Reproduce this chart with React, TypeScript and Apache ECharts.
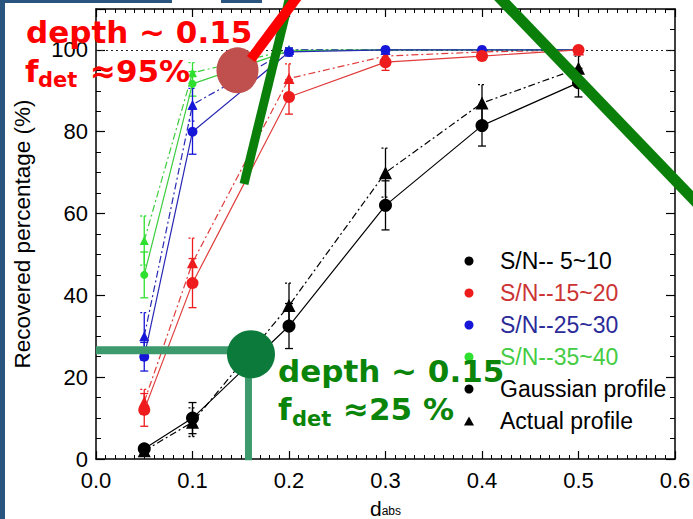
import { useEffect, useRef } from "react";
import * as echarts from "echarts";

// ---------------- data ----------------
const dAbs = [0.05, 0.1, 0.2, 0.3, 0.4, 0.5];

const gaussSN5 = [2.5, 10, 32.5, 62, 81.5, 92];
const gaussSN5Err = [1, 3.8, 5.5, 6, 5, 3.5];
const actualSN5 = [2, 9, 37.5, 70, 87, 95.5];
const actualSN5Err = [1, 3.5, 5.5, 6, 4.5, 3];

const gaussSN15 = [12, 43, 88.5, 97, 98.5, 100];
const gaussSN15Err = [4, 6, 4.2, 2, 1, 0.5];
const actualSN15 = [14, 48, 93, 98.5, 99.5, 100];
const actualSN15Err = [3, 6, 3.6, 1.5, 0.8, 0.3];

const gaussSN25 = [25, 80, 99.5, 100, 100, 100];
const gaussSN25Err = [3.5, 5.5, 1, 0.3, 0.2, 0.1];
const actualSN25 = [30, 86.6, 100, 100, 100, 100];
const actualSN25Err = [5.8, 4, 0.5, 0.2, 0.1, 0.1];

const gaussSN35 = [45, 91.7, 99.8, 100, 100, 100];
const gaussSN35Err = [5.6, 3, 0.5, 0.2, 0.1, 0.1];
const actualSN35 = [53.4, 94.4, 100, 100, 100, 100];
const actualSN35Err = [6, 2.5, 0.3, 0.1, 0.1, 0.1];

const groupLabels = ["S/N-- 5~10", "S/N--15~20", "S/N--25~30", "S/N--35~40"];
const profileLabels = ["Gaussian profile", "Actual profile"];
const yAxisTitle = "Recovered percentage (%)";
const referenceLevel = [100];

// annotation points (data space)
const redMarker = [[0.1466, 95.0]];
const greenMarker = [[0.1606, 25.6]];
const greenHLine = [[0, 26.6], [0.158, 26.6]];
const greenVLine = [[0.158, 25.6], [0.158, -0.3]];

const FONT = "Liberation Sans";
const ANNOT_FONT = "DejaVu Sans";

const groups = [
  { name: groupLabels[0], g: gaussSN5, ge: gaussSN5Err, a: actualSN5, ae: actualSN5Err, line: "#000000", mark: "#000000", text: "#000000", cs: 13, ts: 13 },
  { name: groupLabels[1], g: gaussSN15, ge: gaussSN15Err, a: actualSN15, ae: actualSN15Err, line: "#e03c3c", mark: "#ee1c1c", text: "#cc3333", cs: 12, ts: 11 },
  { name: groupLabels[2], g: gaussSN25, ge: gaussSN25Err, a: actualSN25, ae: actualSN25Err, line: "#2828b4", mark: "#1616d8", text: "#2b2b99", cs: 10, ts: 10 },
  { name: groupLabels[3], g: gaussSN35, ge: gaussSN35Err, a: actualSN35, ae: actualSN35Err, line: "#3ccc3c", mark: "#2fe02f", text: "#44cc44", cs: 8, ts: 9 },
];

function errRender(color: string, dashedCaps: boolean) {
  return (params: any, api: any) => {
    const x = api.value(0);
    const lo = api.coord([x, api.value(1)]);
    const hi = api.coord([x, api.value(2)]);
    const cap = 4;
    const capStyle: any = { stroke: color, lineWidth: 1.3 };
    if (dashedCaps) capStyle.lineDash = [2, 2];
    return {
      type: "group",
      children: [
        { type: "line", shape: { x1: lo[0], y1: lo[1], x2: hi[0], y2: hi[1] }, style: { stroke: color, lineWidth: 1.3 } },
        { type: "line", shape: { x1: lo[0] - cap, y1: lo[1], x2: lo[0] + cap, y2: lo[1] }, style: capStyle },
        { type: "line", shape: { x1: hi[0] - cap, y1: hi[1], x2: hi[0] + cap, y2: hi[1] }, style: capStyle },
      ],
    };
  };
}

function buildSeries() {
  const series: any[] = [];
  const order = [3, 2, 1, 0];
  order.forEach((gi) => {
    const gr = groups[gi];
    series.push({
      name: gr.name + " (actual, error)",
      type: "custom",
      renderItem: errRender(gr.mark, true),
      data: dAbs.map((x, i) => [x, gr.a[i] - gr.ae[i], gr.a[i] + gr.ae[i]]),
      encode: { x: 0, y: [1, 2] },
      z: 3,
      silent: true,
    });
    series.push({
      name: gr.name + " (gaussian, error)",
      type: "custom",
      renderItem: errRender(gr.mark, false),
      data: dAbs.map((x, i) => [x, gr.g[i] - gr.ge[i], gr.g[i] + gr.ge[i]]),
      encode: { x: 0, y: [1, 2] },
      z: 3,
      silent: true,
    });
    series.push({
      name: gr.name + " (actual)",
      type: "line",
      data: dAbs.map((x, i) => [x, gr.a[i]]),
      symbol: "triangle",
      symbolSize: gr.ts,
      lineStyle: { color: gr.line, width: 1.2, type: [7, 3, 2, 3] },
      itemStyle: { color: gr.mark },
      z: 4,
    });
    const s: any = {
      name: gr.name,
      type: "line",
      data: dAbs.map((x, i) => [x, gr.g[i]]),
      symbol: "circle",
      symbolSize: gr.cs,
      lineStyle: { color: gr.line, width: 1.2 },
      itemStyle: { color: gr.mark },
      z: 5,
    };
    if (gi === 0) {
      s.markLine = {
        silent: true,
        symbol: ["none", "none"],
        label: { show: false },
        lineStyle: { color: "#222", width: 1, type: [2, 3] },
        data: referenceLevel.map((v) => ({ yAxis: v })),
      };
    }
    series.push(s);
  });
  // legend-only series for the profile types
  series.push({ name: profileLabels[0], type: "line", data: [], symbol: "circle", itemStyle: { color: "#000" }, lineStyle: { color: "#000" } });
  series.push({ name: profileLabels[1], type: "line", data: [], symbol: "triangle", itemStyle: { color: "#000" }, lineStyle: { color: "#000" } });

  // annotation overlays
  series.push({
    name: "annot-h", type: "line", data: greenHLine, symbol: "none", silent: true,
    lineStyle: { color: "#3d9a6c", width: 8, cap: "butt" }, z: 20,
  });
  series.push({
    name: "annot-v", type: "line", data: greenVLine, symbol: "none", silent: true,
    lineStyle: { color: "#3d9a6c", width: 7, cap: "butt" }, z: 20,
  });
  series.push({
    name: "annot-green", type: "scatter", data: greenMarker, symbol: "circle", symbolSize: 48, silent: true,
    itemStyle: { color: "#0b7a3b", opacity: 1 }, z: 21,
  });
  series.push({
    name: "annot-red", type: "scatter", data: redMarker, symbol: "circle", symbolSize: [42, 46], silent: true,
    itemStyle: { color: "#c0504d", opacity: 1 }, z: 21,
  });
  return series;
}

const axisColor = "#000";

function xAxisBase(position: "top" | "bottom", showLabel: boolean) {
  return {
    type: "value",
    position,
    min: 0,
    max: 0.6,
    interval: 0.1,
    axisLine: { show: true, onZero: false, lineStyle: { color: axisColor, width: 1.5 } },
    axisTick: { show: true, inside: true, length: 8, lineStyle: { color: axisColor, width: 1.2 } },
    minorTick: { show: true, splitNumber: 10, length: 4, lineStyle: { color: axisColor, width: 1 } },
    splitLine: { show: false },
    axisLabel: {
      show: showLabel,
      formatter: (v: number) => v.toFixed(1),
      color: "#000",
      fontSize: 22,
      fontFamily: FONT,
      margin: 10,
    },
  };
}

function yAxisBase(position: "left" | "right", showLabel: boolean) {
  return {
    type: "value",
    position,
    min: 0,
    max: 110,
    interval: 20,
    axisLine: { show: true, onZero: false, lineStyle: { color: axisColor, width: 1.5 } },
    axisTick: { show: true, inside: true, length: 9, lineStyle: { color: axisColor, width: 1.2 } },
    minorTick: { show: true, splitNumber: 4, length: 5, lineStyle: { color: axisColor, width: 1 } },
    splitLine: { show: false },
    axisLabel: {
      show: showLabel,
      formatter: (v: number) => (v > 100 ? "" : String(v)),
      color: "#000",
      fontSize: 22,
      fontFamily: FONT,
      margin: 8,
    },
  };
}

export default function App() {
  const ref = useRef<HTMLDivElement>(null);

  useEffect(() => {
    if (!ref.current) return;
    const chart = echarts.init(ref.current, undefined, { renderer: "svg" });

    const bold = (size: number) => `bold ${size}px "${ANNOT_FONT}"`;
    const txt = (text: string, x: number, y: number, size: number, fill: string) => ({
      type: "text",
      z: 100,
      silent: true,
      style: { text, x, y, font: bold(size), fill, align: "left", verticalAlign: "middle" },
    });

    const option: any = {
      animation: false,
      backgroundColor: "#ffffff",
      grid: { left: 96, right: 18, top: 9, bottom: 60, containLabel: false, outerBoundsMode: "none" },
      xAxis: [
        {
          ...xAxisBase("bottom", true),
          name: "{d|d}{s|abs}",
          nameLocation: "middle",
          nameGap: 22,
          nameTextStyle: {
            rich: {
              d: { fontSize: 21, fontFamily: FONT, color: "#000", verticalAlign: "top", lineHeight: 19 },
              s: { fontSize: 12, fontFamily: FONT, color: "#000", verticalAlign: "bottom", lineHeight: 12, padding: [9, 0, 0, 0] },
            },
          },
        },
        xAxisBase("top", false),
      ],
      yAxis: [
        {
          ...yAxisBase("left", true),
          name: yAxisTitle,
          nameLocation: "middle",
          nameGap: 62,
          nameTextStyle: { fontSize: 22.5, fontFamily: FONT, color: "#000" },
        },
        yAxisBase("right", false),
      ],
      legend: {
        orient: "vertical",
        left: 459,
        top: 241,
        itemWidth: 10,
        itemHeight: 9,
        itemGap: 2,
        symbolKeepAspect: true,
        selectedMode: false,
        textStyle: { fontSize: 23, fontFamily: FONT, lineHeight: 24, padding: [0, 0, 6, 21] },
        data: [
          ...groups.map((g) => ({ name: g.name, icon: "circle", textStyle: { color: g.text } })),
          { name: profileLabels[0], icon: "circle", textStyle: { color: "#000" } },
          { name: profileLabels[1], icon: "triangle", textStyle: { color: "#000" } },
        ],
      },
      series: buildSeries(),
      graphic: [
        // slide background strips
        { type: "rect", z: 50, silent: true, shape: { x: 0, y: 0, width: 5, height: 519 }, style: { fill: "#2a557e" } },
        { type: "rect", z: 50, silent: true, shape: { x: 0, y: 0, width: 172, height: 3 }, style: { fill: "#2a557e" } },
        { type: "rect", z: 50, silent: true, shape: { x: 221, y: 0, width: 41, height: 3 }, style: { fill: "#2a557e" } },
        // hand-drawn strokes
        { type: "line", z: 99, silent: true, shape: { x1: 244, y1: 184, x2: 290, y2: -4 }, style: { stroke: "#0a800a", lineWidth: 9 } },
        { type: "line", z: 100, silent: true, shape: { x1: 251, y1: 59, x2: 298, y2: -4 }, style: { stroke: "#ff0000", lineWidth: 10 } },
        { type: "line", z: 99, silent: true, shape: { x1: 498, y1: -4, x2: 697, y2: 203 }, style: { stroke: "#0a800a", lineWidth: 11 } },
        // red annotation text
        txt("depth ~ 0.15", 26, 31.5, 31, "#ff0000"),
        txt("f", 25, 71.3, 31, "#ff0000"),
        txt("det", 38, 79.7, 21, "#ff0000"),
        txt("≈95%", 90, 71.3, 31, "#ff0000"),
        // green annotation text
        txt("depth ~ 0.15", 278, 371.3, 31, "#0a850a"),
        txt("f", 278, 409.3, 31, "#0a850a"),
        txt("det", 292, 418.7, 21, "#0a850a"),
        txt("≈25 %", 343, 409.3, 31, "#0a850a"),
      ],
    };

    chart.setOption(option);
    return () => chart.dispose();
  }, []);

  return (
    <div
      ref={ref}
      style={{ position: "fixed", left: 0, top: 0, width: 693, height: 519, background: "#fff" }}
    />
  );
}
